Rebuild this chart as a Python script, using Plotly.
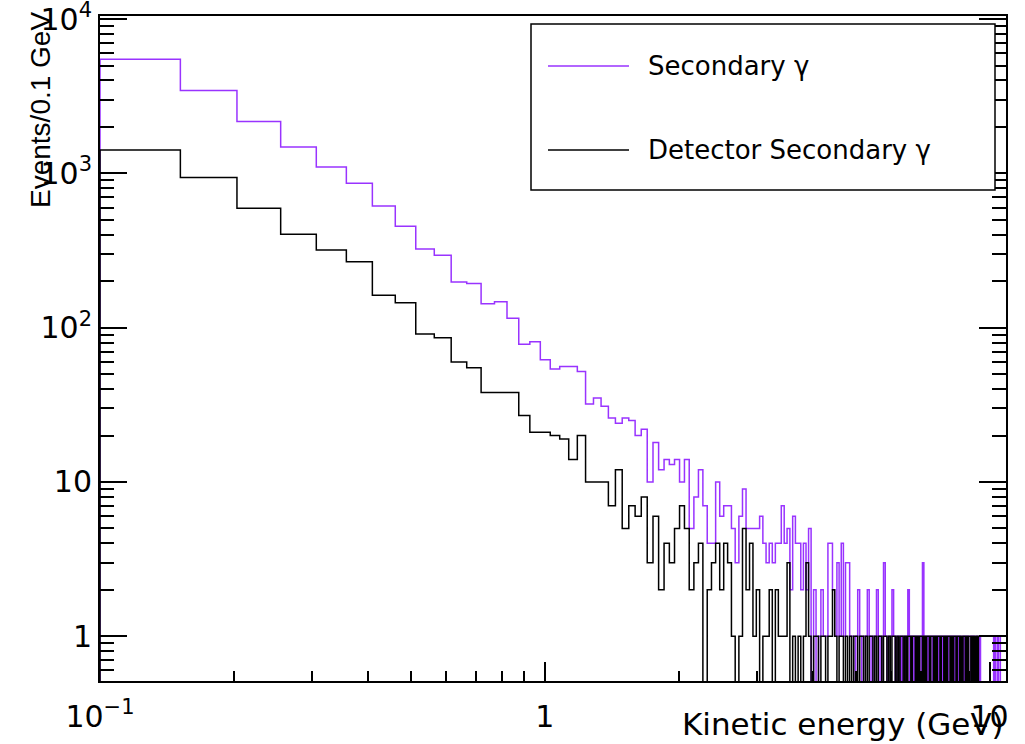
import numpy as np
import plotly.graph_objects as go

# ---------------- data (counts per bin, bins of equal width starting at 0.1 GeV) ----------------
bin_low = 0.1
bin_width = 0.0516

secondary = [
    5490, 3440, 2170, 1480, 1100, 862, 615, 454, 324, 295,
    198, 193, 143, 147, 115, 78, 81, 62, 54, 56,
    56, 52, 32, 35, 31, 26, 24, 26, 25, 20,
    22, 10, 18, 12, 14, 13, 14, 10, 14, 5,
    8, 12, 7, 4, 4, 10, 6, 7, 7, 5,
    3, 6, 9, 5, 5, 5, 5, 6, 4, 3,
    4, 3, 4, 4, 7, 4, 5, 2, 6, 4,
    4, 2, 4, 2, 5, 0, 2, 0, 1, 2,
    1, 1, 4, 4, 2, 1, 3, 1, 4, 1,
    3, 3, 1, 1, 0, 1, 2, 1, 0, 1,
    1, 2, 1, 0, 1, 1, 2, 1, 0, 1,
    3, 1, 0, 1, 1, 2, 1, 0, 1, 1,
    0, 1, 0, 1, 1, 2, 0, 1, 1, 0,
    1, 0, 1, 1, 0, 3, 1, 0, 1, 0,
    1, 1, 0, 1, 1, 0, 1, 0, 1, 1,
    0, 1, 0, 1, 0, 1, 1, 0, 1, 0,
    1, 0, 1, 0, 1, 0, 0, 1, 0, 1,
    0, 1, 0, 0, 1, 0, 1, 0, 0, 1,
    0, 0, 1, 0, 0, 0, 0, 0, 0, 0,
    0, 0, 0, 0, 0, 0, 1, 0, 1, 1,
    0, 1, 1, 0, 0, 0, 0, 0, 0, 0, 0,
]

detector = [
    1420, 940, 594, 403, 319, 267, 162, 145, 91, 86,
    60, 55, 38, 38, 38, 27, 21, 21, 20, 19,
    14, 20, 10, 10, 10, 7, 12, 5, 7, 6,
    8, 3, 6, 2, 4, 3, 5, 7, 5, 2,
    3, 4, 0, 2, 3, 4, 2, 4, 3, 1,
    0, 1, 5, 2, 4, 1, 2, 0, 1, 1,
    2, 0, 2, 1, 1, 1, 3, 0, 1, 0,
    1, 0, 1, 3, 1, 0, 1, 1, 0, 1,
    1, 0, 1, 1, 2, 1, 0, 1, 1, 0,
    1, 0, 1, 0, 1, 1, 0, 1, 1, 0,
    1, 0, 1, 1, 0, 1, 0, 1, 1, 0,
    1, 1, 0, 1, 0, 1, 1, 0, 1, 0,
    1, 1, 0, 1, 0, 1, 1, 0, 1, 1,
    0, 1, 0, 1, 1, 0, 1, 0, 1, 1,
    0, 1, 1, 0, 1, 0, 1, 1, 0, 1,
    1, 0, 1, 0, 1, 1, 0, 1, 0, 1,
    1, 0, 1, 1, 0, 1, 0, 1, 1, 0,
    1, 0, 1, 1, 0, 1, 0, 1, 0, 1,
    0, 1, 1, 1, 1, 1, 1, 1, 1, 1,
    1, 1, 1, 1, 1, 1, 1, 1, 1, 1,
    1, 1, 1, 1, 1, 1, 1, 1, 1, 1, 1,
]

series_names = ["Secondary \u03b3", "Detector Secondary \u03b3"]
series_colors = ["#9933ff", "#000000"]

x_major_vals = [0.1, 1, 10]
x_major_text = ["10<sup>\u22121</sup>", "1", "10"]
x_minor_vals = [0.2, 0.3, 0.4, 0.5, 0.6, 0.7, 0.8, 0.9, 2, 3, 4, 5, 6, 7, 8, 9]
y_major_vals = [1, 10, 100, 1000, 10000]
y_major_text = ["1", "10", "10<sup>2</sup>", "10<sup>3</sup>", "10<sup>4</sup>"]
y_minor_vals = [0.6, 0.7, 0.8, 0.9] + [m * 10 ** d for d in range(0, 4) for m in range(2, 10)]

x_title = "Kinetic energy (GeV)"
y_title = "Events/0.1 GeV"

# ---------------- axis ranges (log10) ----------------
X_LOG_RANGE = [-1.0, 1.037]
Y_LOG_RANGE = [-0.29, 4.02]

W, H = 1025, 744
ML, MR, MT, MB = 100, 19, 16, 63
PW, PH = W - ML - MR, H - MT - MB


def px_x(p):
    return (p - ML) / PW


def px_y(p):
    return (H - MB - p) / PH


def hist_outline(values):
    vals = np.asarray(values, dtype=float)
    edges = bin_low + bin_width * np.arange(len(vals) + 1)
    floor = 10 ** (Y_LOG_RANGE[0] - 1.0)  # empty bins drop below the frame
    v = np.where(vals > 0, vals, floor)
    xs = np.concatenate([[edges[0]], edges])
    ys = np.concatenate([[floor], v, [floor]])
    return xs, ys


fig = go.Figure()
for vals, name, col in zip([secondary, detector], series_names, series_colors):
    xs, ys = hist_outline(vals)
    fig.add_trace(go.Scatter(
        x=xs, y=ys, mode="lines", name=name,
        line=dict(color=col, width=1.5, shape="hv"),
        showlegend=False, hoverinfo="skip",
    ))

tick_font = dict(family="DejaVu Sans, Liberation Sans, Arial", size=30, color="black")

fig.update_xaxes(
    type="log", range=X_LOG_RANGE, automargin=False,
    tickmode="array", tickvals=x_major_vals, ticktext=x_major_text,
    ticks="inside", ticklen=19, tickwidth=1.5, tickcolor="black",
    minor=dict(tickmode="array", tickvals=x_minor_vals, ticks="inside",
               ticklen=10, tickwidth=1.5, tickcolor="black", showgrid=False),
    showline=True, linecolor="black", linewidth=2, mirror=True,
    showgrid=False, zeroline=False, tickfont=tick_font,
    ticklabelstandoff=8, ticklabeloverflow="allow",
)
fig.update_yaxes(
    type="log", range=Y_LOG_RANGE, automargin=False,
    tickmode="array", tickvals=y_major_vals, ticktext=y_major_text,
    ticks="inside", ticklen=27, tickwidth=1.5, tickcolor="black",
    minor=dict(tickmode="array", tickvals=y_minor_vals, ticks="inside",
               ticklen=14, tickwidth=1.5, tickcolor="black", showgrid=False),
    showline=True, linecolor="black", linewidth=2, mirror="ticks",
    showgrid=False, zeroline=False, tickfont=tick_font,
    ticklabeloverflow="allow",
)

annotations = [
    dict(text=x_title, xref="paper", yref="paper", x=1.0, y=px_y(724),
         xanchor="right", yanchor="middle", showarrow=False,
         font=dict(family="DejaVu Sans, Liberation Sans, Arial", size=31, color="black")),
    dict(text=y_title, xref="paper", yref="paper", x=px_x(41), y=px_y(110),
         xanchor="center", yanchor="middle", textangle=-90, showarrow=False,
         font=dict(family="Liberation Sans, Arial", size=28, color="black")),
]

# legend box (ROOT TLegend style)
leg_x0, leg_x1, leg_y0, leg_y1 = px_x(531), px_x(995), px_y(190), px_y(24)
shapes = [dict(type="rect", xref="paper", yref="paper", x0=leg_x0, x1=leg_x1,
               y0=leg_y0, y1=leg_y1, line=dict(color="black", width=1.5),
               fillcolor="white", layer="above")]
entry_y = [px_y(66), px_y(150)]
for name, col, ey in zip(series_names, series_colors, entry_y):
    shapes.append(dict(type="line", xref="paper", yref="paper",
                       x0=px_x(548), x1=px_x(629), y0=ey, y1=ey,
                       line=dict(color=col, width=1.5), layer="above"))
    annotations.append(dict(text=name, xref="paper", yref="paper", x=px_x(646), y=ey,
                            xanchor="left", yanchor="middle", showarrow=False,
                            font=dict(family="DejaVu Sans, Liberation Sans, Arial",
                                      size=26, color="black")))

fig.update_layout(
    width=W, height=H,
    margin=dict(l=ML, r=MR, t=MT, b=MB, autoexpand=False),
    paper_bgcolor="white", plot_bgcolor="white",
    showlegend=False,
    annotations=annotations, shapes=shapes,
)

fig.write_html("out.html")
